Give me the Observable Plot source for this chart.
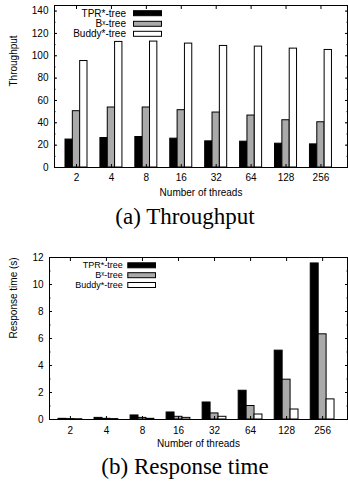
<!DOCTYPE html>
<html><head><meta charset="utf-8">
<script src="https://cdn.jsdelivr.net/npm/d3@7"></script>
<script src="https://cdn.jsdelivr.net/npm/@observablehq/plot@0.6"></script>
<style>
body{margin:0;background:#fff;width:348px;overflow:hidden;}
.cap{font-family:"Liberation Serif","Times New Roman",serif;font-size:23px;color:#000;text-align:center;padding-left:22px;width:326px;white-space:nowrap;}
svg{display:block}
</style></head><body><div id="c"></div>
<script>
const threads = ["2", "4", "8", "16", "32", "64", "128", "256"];
const series = ["TPR*-tree", "B\u02E3-tree", "Buddy*-tree"];
const seriesColors = ["#000000", "#aaaaaa", "#ffffff"];
const throughputTPR = [25, 26.4, 27.3, 25.8, 23.4, 23.1, 21.3, 20.7];
const throughputBx = [50.4, 53.7, 53.7, 51.3, 49.2, 46.5, 42.3, 40.5];
const throughputBuddy = [95.3, 112.4, 112.7, 110.9, 108.8, 108.2, 106.4, 105.2];
const responseTPR = [0.05, 0.12, 0.3, 0.52, 1.26, 2.13, 5.1, 11.56];
const responseBx = [0.03, 0.05, 0.12, 0.2, 0.45, 1.0, 2.95, 6.31];
const responseBuddy = [0.02, 0.03, 0.05, 0.12, 0.2, 0.37, 0.74, 1.49];
const throughputTicks = [0, 20, 40, 60, 80, 100, 120, 140];
const responseTicks = [0, 2, 4, 6, 8, 10, 12];

function legendMark(textDx, swX0, swX1, rowDys, fontSize) {
  return (index, scales, values, dims) => {
    const g = d3.create("svg:g")
      .attr("font-family", "Liberation Sans, Arial, sans-serif")
      .attr("font-size", fontSize);
    series.forEach((s, j) => {
      const y = dims.marginTop + rowDys[j];
      g.append("text").attr("x", dims.marginLeft + textDx).attr("y", y)
        .attr("dy", "0.35em").attr("text-anchor", "end").attr("fill", "#000").text(s);
      g.append("rect").attr("x", dims.marginLeft + swX0 + 0.5).attr("y", y - 2.5)
        .attr("width", swX1 - swX0).attr("height", 5)
        .attr("fill", seriesColors[j]).attr("stroke", "#000").attr("stroke-width", 1);
    });
    return g.node();
  };
}

function chart(o) {
  const rows = threads.flatMap((t, i) => o.values.map((vals, j) => ({i, j, v: vals[i]})));
  const minor = d3.range(0, o.yDomain[1] + 1e-9, o.minorStep);
  return Plot.plot({
    width: 348,
    height: o.height,
    marginLeft: o.marginLeft,
    marginRight: 1,
    marginTop: o.marginTop,
    marginBottom: 33,
    style: {fontFamily: "Liberation Sans, Arial, sans-serif", fontSize: "10px", color: "#000", background: "#fff"},
    x: {type: "linear", domain: o.xDomain, axis: null},
    y: {domain: o.yDomain, axis: null},
    marks: [
      Plot.rectY(rows, {
        x1: d => d.i + o.offsets[d.j] - o.barW / 2,
        x2: d => d.i + o.offsets[d.j] + o.barW / 2,
        y: "v",
        fill: d => seriesColors[d.j],
        stroke: "#000",
        strokeWidth: 1
      }),
      Plot.frame({stroke: "#000", strokeWidth: 1}),
      Plot.axisY(o.yTicks, {anchor: "left", tickSize: 0, tickPadding: 6, label: null}),
      Plot.axisY(o.yTicks, {anchor: "left", tickSize: 3, dx: 3, fill: "none", label: null}),
      Plot.axisY(o.yTicks, {anchor: "right", tickSize: 3, dx: -3, fill: "none", label: null}),
      Plot.axisY(minor, {anchor: "left", tickSize: 1.5, dx: 1.5, fill: "none", label: null}),
      Plot.axisY(minor, {anchor: "right", tickSize: 1.5, dx: -1.5, fill: "none", label: null}),
      Plot.axisX(d3.range(threads.length), {anchor: "bottom", tickSize: 0, tickPadding: o.xPad, tickFormat: i => threads[i], label: null}),
      Plot.axisX(d3.range(threads.length), {anchor: "bottom", tickSize: 3, dy: -3, fill: "none", label: null}),
      Plot.axisX(d3.range(threads.length), {anchor: "top", tickSize: 3, dy: 3, fill: "none", label: null}),
      Plot.text([o.yLabel], {frameAnchor: "left", text: d => d, rotate: -90, dx: o.yLabelDx, lineAnchor: "middle", fill: "#000"}),
      Plot.text(["Number of threads"], {frameAnchor: "bottom", text: d => d, dy: o.xLabelDy, lineAnchor: "middle", fill: "#000"}),
      legendMark(o.legend.textDx, o.legend.sw0, o.legend.sw1, o.legend.rows, o.legend.fontSize)
    ]
  });
}

const c = document.getElementById("c");
c.append(chart({
  values: [throughputTPR, throughputBx, throughputBuddy],
  height: 200, marginTop: 5, marginLeft: 54,
  xDomain: [-0.63, 7.76], barW: 0.21, offsets: [-0.21, 0, 0.21],
  yDomain: [0, 145], yTicks: throughputTicks, minorStep: 10,
  xPad: 6, yLabel: "Throughput", yLabelDx: -40.5, xLabelDy: 25,
  legend: {textDx: 72, sw0: 79, sw1: 107, rows: [8.2, 18.8, 28.8], fontSize: 10}
}));
const cap1 = document.createElement("div");
cap1.className = "cap"; cap1.style.height = "34px"; cap1.style.lineHeight = "34px";
cap1.textContent = "(a) Throughput";
c.append(cap1);
c.append(chart({
  values: [responseTPR, responseBx, responseBuddy],
  height: 218, marginTop: 23, marginLeft: 49,
  xDomain: [-0.58, 7.69], barW: 0.22, offsets: [-0.22, 0, 0.22],
  yDomain: [0, 12], yTicks: responseTicks, minorStep: 1,
  xPad: 7, yLabel: "Response time (s)", yLabelDx: -36, xLabelDy: 24,
  legend: {textDx: 73.7, sw0: 78.3, sw1: 106, rows: [8.3, 18.2, 28], fontSize: 9}
}));
const cap2 = document.createElement("div");
cap2.className = "cap"; cap2.style.height = "29px"; cap2.style.lineHeight = "29px";
cap2.textContent = "(b) Response time";
c.append(cap2);
</script>
</body></html>
